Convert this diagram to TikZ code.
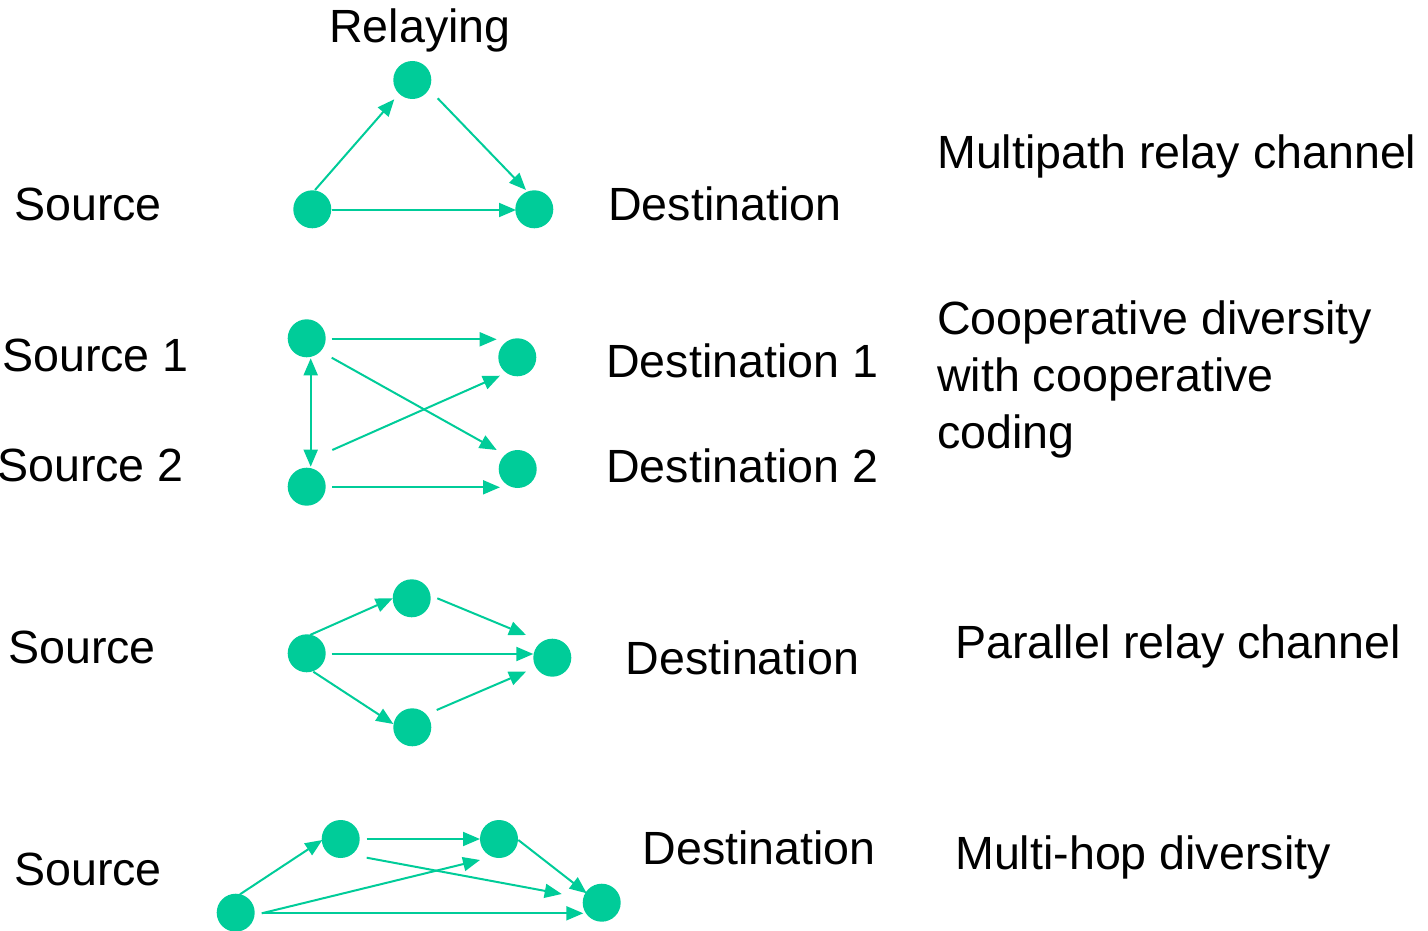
\documentclass[tikz,border=0pt]{standalone}
\usepackage{fontspec}
\setmainfont{Liberation Sans}
\usetikzlibrary{arrows.meta}
\definecolor{netgreen}{RGB}{0,204,153}
\begin{document}
\begin{tikzpicture}[x=1pt,y=-1pt,
  dot/.style={circle,fill=netgreen,draw=none,minimum size=38pt,inner sep=0pt},
  link/.style={draw=netgreen,line width=2pt,-{Triangle[length=17pt,width=14pt]}},
  twoway/.style={draw=netgreen,line width=2pt,{Triangle[length=17pt,width=14pt]}-{Triangle[length=17pt,width=14pt]}},
  lbl/.style={anchor=base west,inner sep=0pt,font=\fontsize{46.6}{56.7}\selectfont}]
\useasboundingbox (0,0) rectangle (1428,931);

% ---- Multipath relay channel ----
\node[dot] (a1) at (312.3,209.3) {};
\node[dot] (a2) at (412.3,80) {};
\node[dot] (a3) at (534.3,209.3) {};
\coordinate (a12s) at (315,190);    \coordinate (a12e) at (394.3,99.3);
\coordinate (a23s) at (437.7,98.3); \coordinate (a23e) at (526,190);
\coordinate (a13s) at (331.7,210);  \coordinate (a13e) at (516,210);
\draw[link] (a12s) -- (a12e);
\draw[link] (a23s) -- (a23e);
\draw[link] (a13s) -- (a13e);
\node[lbl] (relay) at (329,43) {Relaying};
\node[lbl] (src1) at (14,220) {Source};
\node[lbl] (dst1) at (608,220) {Destination};
\node[lbl] (cap1) at (937,169) {Multipath relay channel};

% ---- Cooperative diversity ----
\node[dot] (b1) at (306.7,338.3) {};
\node[dot] (b2) at (306.7,486.7) {};
\node[dot] (b3) at (517.3,357.3) {};
\node[dot] (b4) at (517.7,469) {};
\coordinate (b13s) at (331.7,339.3); \coordinate (b13e) at (496.7,339.3);
\coordinate (b14s) at (331.7,357.7); \coordinate (b14e) at (496.7,450);
\coordinate (b23s) at (332.3,450);   \coordinate (b23e) at (500,375.7);
\coordinate (b24s) at (332,487.3);   \coordinate (b24e) at (500,487.3);
\coordinate (b12s) at (310.7,358.3); \coordinate (b12e) at (310.7,466.7);
\draw[link] (b13s) -- (b13e);
\draw[link] (b14s) -- (b14e);
\draw[link] (b23s) -- (b23e);
\draw[link] (b24s) -- (b24e);
\draw[twoway] (b12s) -- (b12e);
\node[lbl] (srcA) at (2,371) {Source 1};
\node[lbl] (srcB) at (-3,481) {Source 2};
\node[lbl] (dstA) at (606,377) {Destination 1};
\node[lbl] (dstB) at (606,482) {Destination 2};
% the base anchor of a multi-line node sits on its last line
\node[lbl,align=left] (cap2) at (937,448.3) {Cooperative diversity\\with cooperative\\coding};

% ---- Parallel relay channel ----
\node[dot] (c1) at (306.7,653.3) {};
\node[dot] (c2) at (411.7,598.3) {};
\node[dot] (c3) at (412.3,727.3) {};
\node[dot] (c4) at (552.3,657.7) {};
\coordinate (c12s) at (310,635);     \coordinate (c12e) at (392.7,598.3);
\coordinate (c24s) at (437.3,598.3); \coordinate (c24e) at (526,635);
\coordinate (c14s) at (331.7,654);   \coordinate (c14e) at (533.3,654);
\coordinate (c13s) at (313.3,671.7); \coordinate (c13e) at (393.3,724);
\coordinate (c34s) at (436.7,710);   \coordinate (c34e) at (526,671.7);
\draw[link] (c12s) -- (c12e);
\draw[link] (c24s) -- (c24e);
\draw[link] (c14s) -- (c14e);
\draw[link] (c13s) -- (c13e);
\draw[link] (c34s) -- (c34e);
\node[lbl] (src3) at (8,663.3) {Source};
\node[lbl] (dst3) at (625.7,674) {Destination};
\node[lbl] (cap3) at (955,658) {Parallel relay channel};

% ---- Multi-hop diversity ----
\node[dot] (d1) at (235.7,912.7) {};
\node[dot] (d2) at (340.7,839) {};
\node[dot] (d3) at (499,839) {};
\node[dot] (d4) at (601.7,902.7) {};
\coordinate (d12s) at (240,894.3);   \coordinate (d12e) at (322.3,840);
\coordinate (d23s) at (366.7,839);   \coordinate (d23e) at (480,839);
\coordinate (d24s) at (366.7,857.7); \coordinate (d24e) at (561.7,894);
\coordinate (d13s) at (261.7,913.3); \coordinate (d13e) at (480,860);
\coordinate (d34s) at (518.3,840);   \coordinate (d34e) at (586.7,893.3);
\coordinate (d14s) at (261.7,913.3); \coordinate (d14e) at (583.3,913.3);
\draw[link] (d12s) -- (d12e);
\draw[link] (d23s) -- (d23e);
\draw[link] (d24s) -- (d24e);
\draw[link] (d13s) -- (d13e);
\draw[link] (d34s) -- (d34e);
\draw[link] (d14s) -- (d14e);
\node[lbl] (src4) at (14,885) {Source};
\node[lbl] (dst4) at (642.3,864) {Destination};
\node[lbl] (cap4) at (955,869) {Multi-hop diversity};
\end{tikzpicture}
\end{document}
